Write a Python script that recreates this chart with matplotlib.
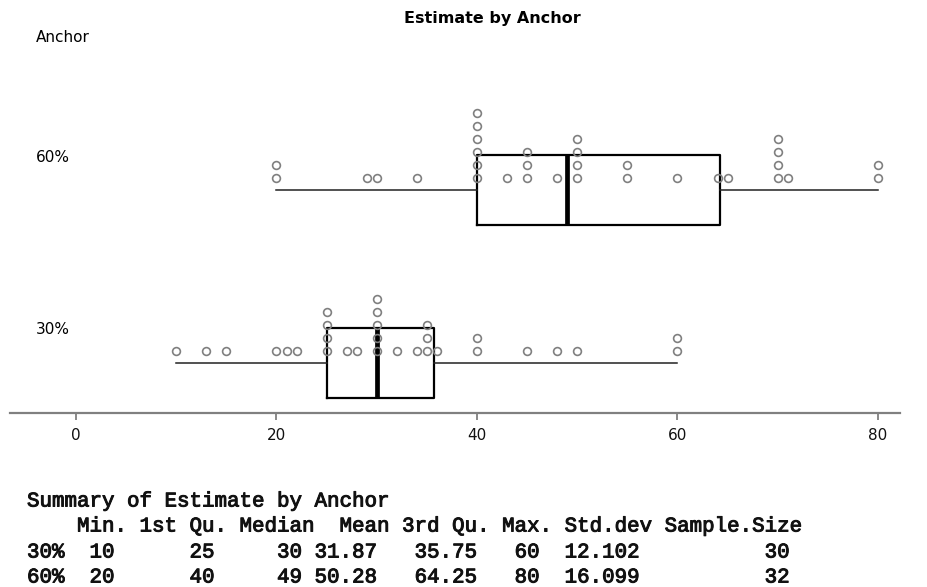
import matplotlib
matplotlib.use("Agg")
import matplotlib.pyplot as plt
import matplotlib.patheffects as pe
import numpy as np

# estimates, one entry per respondent
anchor_labels = ["30%", "60%"]
anchor_30 = [10, 13, 15, 20, 21, 22, 25, 25, 25, 25, 27, 28, 30, 30, 30, 30, 30,
             32, 34, 35, 35, 35, 36, 40, 40, 45, 48, 50, 60, 60]
anchor_60 = [20, 20, 29, 30, 34, 40, 40, 40, 40, 40, 40, 43, 45, 45, 45, 48,
             50, 50, 50, 50, 55, 55, 60, 64, 65, 70, 70, 70, 70, 71, 80, 80]
x_ticks = [0, 20, 40, 60, 80]

# summary table as printed under the chart
summary_header = ["Min.", "1st Qu.", "Median", "Mean", "3rd Qu.", "Max.", "Std.dev", "Sample.Size"]
summary_30 = ["10", "25", "30", "31.87", "35.75", "60", "12.102", "30"]
summary_60 = ["20", "40", "49", "50.28", "64.25", "80", "16.099", "32"]

W, H = 928, 587
fig = plt.figure(figsize=(W / 100, H / 100), dpi=100)
ax = fig.add_axes([10 / W, 1 - 413 / H, 890 / W, 373 / H])

groups = [anchor_30, anchor_60]
positions = [1, 2]

ax.boxplot(groups, positions=positions, vert=False, widths=0.405,
           whis=(0, 100), showcaps=False, showfliers=False,
           boxprops=dict(color="black", linewidth=1.6),
           whiskerprops=dict(color="#222222", linewidth=1.1),
           medianprops=dict(color="black", linewidth=3.4))

# stacked dots above each whisker line
base, step = 0.0694, 0.0751
for pos, vals in zip(positions, groups):
    uniq, counts = np.unique(vals, return_counts=True)
    for v, c in zip(uniq, counts):
        ys = pos + base + step * np.arange(c)
        ax.plot([v] * c, ys, "o", ms=5.6, mfc="none", mec="#808080",
                mew=1.2, zorder=5, clip_on=False)

ax.set_xlim(-66 / 10.025, 824 / 10.025)
ax.set_ylim(1 - 50 / 173, 2 + 150 / 173)
ax.set_xticks(x_ticks)
ax.set_yticks([])
for side in ["left", "top", "right"]:
    ax.spines[side].set_visible(False)
ax.spines["bottom"].set_color("#808080")
ax.spines["bottom"].set_linewidth(1.6)
ax.tick_params(axis="x", length=5, width=1.3, color="#808080", pad=6,
               labelsize=11, labelcolor="#111111")

fig.text(492 / W, 1 - 18 / H, "Estimate by Anchor", ha="center", va="center",
         fontsize=11.5, fontweight="bold")
fig.text(36 / W, 1 - 37 / H, "Anchor", ha="left", va="center", fontsize=11)
fig.text(36 / W, 1 - 330 / H, anchor_labels[0], ha="left", va="center", fontsize=11)
fig.text(36 / W, 1 - 157 / H, anchor_labels[1], ha="left", va="center", fontsize=11)


# fixed-width summary, columns right-aligned like the R printout
def row(label, vals):
    widths = [3, 4, 8, 7, 6, 8, 5, 8, 12]
    s = label.ljust(widths[0])
    for v, w in zip(vals, widths[1:]):
        s += v.rjust(w)
    return s


lines = [
    "Summary of Estimate by Anchor",
    "    " + " ".join(summary_header[:3]) + "  " + " ".join(summary_header[3:]),
    row(anchor_labels[0], summary_30),
    row(anchor_labels[1], summary_60),
]
line_y = [501, 526, 552, 577]
for txt, y in zip(lines, line_y):
    fig.text(27 / W, 1 - y / H, txt, ha="left", va="center",
             family="Liberation Mono", fontsize=15, color="#111111",
             path_effects=[pe.withStroke(linewidth=0.7, foreground="#111111")])

fig.savefig("out.png", dpi=100)
